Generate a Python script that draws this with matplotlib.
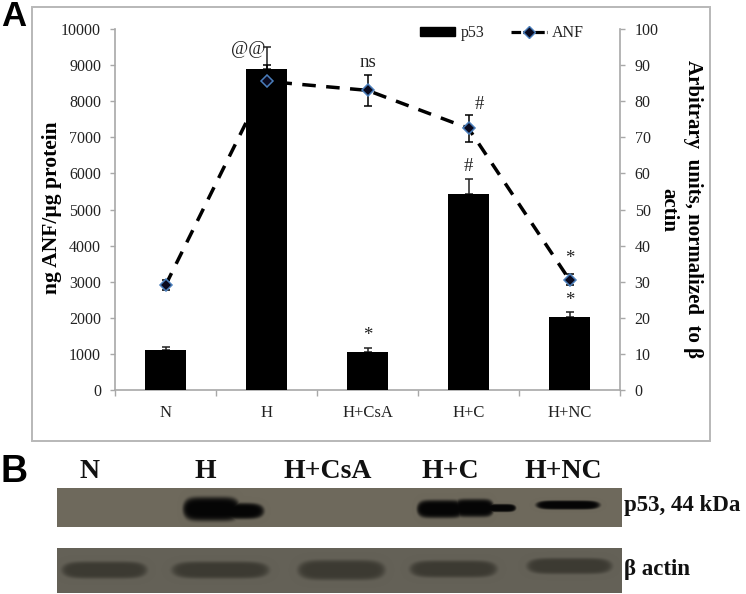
import numpy as np
import matplotlib
matplotlib.use("Agg")
import matplotlib.pyplot as plt
from matplotlib.lines import Line2D
from matplotlib.patches import Patch, Rectangle

categories = ["N", "H", "H+CsA", "H+C", "H+NC"]
p53_values = [1120, 8880, 1060, 5440, 2030]
p53_errors = [80, 620, 90, 400, 140]
anf_values = [29, 85.5, 83, 72.5, 30.5]
anf_errors = [1.4, 4.5, 4.2, 3.8, 1.5]
left_ticks = list(range(0, 10001, 1000))
right_ticks = list(range(0, 101, 10))
# annotation: x (category units), y (left-axis units), text
annot_x = [0.82, 2.0, 3.11, 3.0, 2.0, 4.0, 4.0]
annot_y = [9440, 9070, 7900, 6200, 1510, 3640, 2480]
annot_t = ["@@", "ns", "#", "#", "*", "*", "*"]
blot_labels = ["N", "H", "H+CsA", "H+C", "H+NC"]
blot_label_x = [90, 205, 328, 450, 563]
# bands: x0, x1, yc, half-height, strength (pixel units of the photographic panel)
p53_bands = [(183, 240, 509, 12, 1.0), (200, 264, 511, 8, 1.0), (417, 464, 509, 9, 1.0),
             (454, 494, 508, 9, 1.0), (482, 516, 508, 4, 1.0), (536, 600, 505, 4.5, 1.0)]
actin_bands = [(62, 147, 570, 8.5, 1.0), (172, 269, 570, 8.5, 1.0), (298, 385, 570, 10, 1.0),
               (410, 497, 569, 8.5, 1.0), (527, 612, 566, 8, 1.0)]

W, H = 746, 594
plt.rcParams["font.family"] = ["Liberation Serif", "DejaVu Serif"]
fig = plt.figure(figsize=(W / 100, H / 100), dpi=100)
GREY = "#a8a8a8"
TXT = "#222222"

bg = fig.add_axes([0, 0, 1, 1])
bg.set_xlim(0, W); bg.set_ylim(H, 0); bg.axis("off")
bg.add_patch(Rectangle((32, 7), 678, 434, fc="white", ec="#b8b8b8", lw=1.4))

L, R, T, B = 115, 620, 29, 390
ax = fig.add_axes([L / W, 1 - B / H, (R - L) / W, (B - T) / H])
ax2 = ax.twinx()
ax3 = ax.twinx()
ax.set_zorder(2); ax2.set_zorder(1); ax3.set_zorder(3)
ax.patch.set_visible(False); ax2.patch.set_visible(False); ax3.patch.set_visible(False)

x = np.arange(len(categories))
ax.bar(x, p53_values, width=0.4, color="black", zorder=3)
ax.errorbar(x, p53_values, yerr=[[0] * 5, p53_errors], fmt="none", ecolor="#222222",
            elinewidth=1.1, capsize=3, capthick=1.1, zorder=2)
ax2.plot(x, anf_values, color="black", lw=2.5, linestyle=(0, (3.9, 3)))
ax3.errorbar(x, anf_values, yerr=anf_errors, fmt="none", ecolor="#000000",
             elinewidth=1.1, capsize=3, capthick=1.1)
ax3.plot(x, anf_values, ls="none", marker="D", ms=6, mfc="#0a0a1e", mec="#4a7ebb", mew=1.1)

ax.set_xlim(-0.5, 4.5)
ax.set_ylim(0, 10000)
for a in (ax2, ax3):
    a.set_ylim(0, 100)
ax.set_yticks(left_ticks)
ax.set_yticklabels([str(v) for v in left_ticks])
ax2.set_yticks(right_ticks)
ax2.set_yticklabels([str(v) for v in right_ticks])
ax3.set_yticks([]); ax3.axis("off")
ax.set_xticks(x)
ax.set_xticklabels(categories)
ax.set_xticks(np.arange(-0.5, 5), minor=True)
ax.tick_params(axis="x", which="major", length=0, labelsize=12, pad=11, colors=TXT)
ax.tick_params(axis="x", which="minor", length=4, width=1, color=GREY, direction="out")
ax.tick_params(axis="y", length=3.5, width=1, color=GREY, labelsize=11.5, labelcolor=TXT, pad=6.5)
ax2.tick_params(axis="y", length=3.5, width=1, color=GREY, labelsize=11.5, labelcolor=TXT, pad=7)
for a in (ax, ax2, ax3):
    a.spines["top"].set_visible(False)
    for s in ("left", "right", "bottom"):
        a.spines[s].set_color(GREY)
        a.spines[s].set_linewidth(1.2)
ax.spines["right"].set_visible(False)
ax2.spines["left"].set_visible(False)
ax2.spines["bottom"].set_visible(False)

for xa, ya, t in zip(annot_x, annot_y, annot_t):
    ax.text(xa, ya, t, ha="center", va="center", fontsize=13.5, color=TXT, zorder=5)

handles = [Patch(fc="black", ec="black"),
           Line2D([], [], color="black", lw=2.3, linestyle=(0, (3.0, 0.7)), marker="D", ms=6,
                  mfc="#0a0a1e", mec="#4a7ebb", mew=1)]
ax3.legend(handles, ["p53", "ANF"], ncol=2, frameon=False, fontsize=11.5, loc="center",
           bbox_to_anchor=((502 - L) / (R - L), 1 - (33 - T) / (B - T)),
           handlelength=2.2, handleheight=0.5, columnspacing=1.7, handletextpad=0.35,
           labelcolor=TXT, borderpad=0)

# overlay in pixel coordinates
ov = fig.add_axes([0, 0, 1, 1], zorder=10)
ov.set_xlim(0, W); ov.set_ylim(H, 0); ov.axis("off"); ov.patch.set_visible(False)

ov.text(52, 208, "ng ANF/µg protein", rotation=90, ha="center", va="center", fontsize=15.5, fontweight="bold")
ov.text(693, 209, "Arbitrary  units, normalized  to β", rotation=270, ha="center", va="center",
        fontsize=15, fontweight="bold")
ov.text(668, 210, "actin", rotation=270, ha="center", va="center", fontsize=15, fontweight="bold")
for s, px, py, fs in [("A", 14, 17, 25), ("B", 14, 472, 27)]:
    ov.text(px, py, s, ha="center", va="center", fontsize=fs, fontweight="bold",
            family=["Liberation Sans", "DejaVu Sans"], color="black")
for lab, px in zip(blot_labels, blot_label_x):
    ov.text(px, 472, lab, ha="center", va="center", fontsize=20, fontweight="bold", color="#111111")
ov.text(624, 506, "p53, 44 kDa", ha="left", va="center", fontsize=16.5, fontweight="bold", color="#111111")
ov.text(624, 570, "β actin", ha="left", va="center", fontsize=16.5, fontweight="bold", color="#111111")


def panel(x0, x1, y0, y1, base, dark, bands, soft):
    xs = np.arange(x0, x1) + 0.5
    ys = np.arange(y0, y1) + 0.5
    X, Y = np.meshgrid(xs, ys)
    m = np.zeros_like(X)
    for a, b, yc, hh, s in bands:
        cx, hw = (a + b) / 2, (b - a) / 2
        d = ((X - cx) / hw) ** 6 + ((Y - yc) / hh) ** 2
        m = np.maximum(m, s * np.exp(-d ** soft))
    img = np.empty(X.shape + (3,))
    for i in range(3):
        img[..., i] = (base[i] + (dark[i] - base[i]) * m) / 255
    ov.imshow(img, extent=(x0, x1, y1, y0), interpolation="bilinear", aspect="auto", zorder=1)


panel(57, 622, 488, 527, (110, 105, 92), (5, 5, 5), p53_bands, 3)
panel(57, 622, 548, 593, (100, 97, 87), (60, 58, 50), actin_bands, 3)
ov.set_xlim(0, W); ov.set_ylim(H, 0)

fig.savefig("out.png", dpi=100)
